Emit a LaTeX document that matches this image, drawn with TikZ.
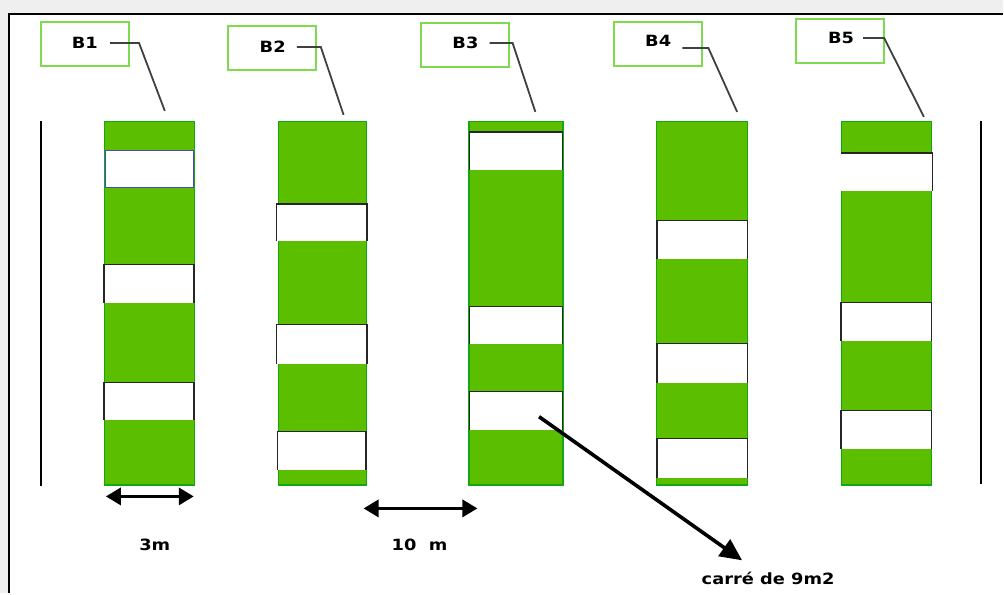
\documentclass[tikz,border=0pt]{standalone}
\usepackage{fontspec}
\setmainfont{DejaVu Sans}
\usetikzlibrary{arrows.meta}
\definecolor{plotgreen}{HTML}{5BBF00}
\definecolor{edgegreen}{HTML}{12A812}
\definecolor{boxgreen}{HTML}{7EDB4F}
\definecolor{bggray}{HTML}{EFEFEF}
\newcommand\widetxt[1]{\scalebox{1.15}[1]{#1}}
\begin{document}
\begin{tikzpicture}[x=1pt,y=-1pt,
 labelbox/.style={draw=boxgreen, line width=2pt, minimum width=88pt, minimum height=44pt, inner sep=0pt},
 lbl/.style={font=\fontsize{15.5}{17}\selectfont\bfseries, inner sep=0pt},
 column/.style={fill=plotgreen, draw=edgegreen, line width=1.2pt, minimum height=364pt, anchor=north west, inner sep=0pt},
 square/.style={fill=white, draw=none, anchor=north west, inner sep=0pt},
 sqborder/.style={draw=black!85, line width=1.5pt},
 leader/.style={draw=black!75, line width=1.8pt},
 dimarrow/.style={line width=3.4pt, {Triangle[length=15pt,width=17pt]}-{Triangle[length=15pt,width=17pt]}},
 ptarrow/.style={line width=3.6pt, -{Triangle[length=22pt,width=20pt]}},
 boundary/.style={line width=2.6pt, draw=black}
]
\fill[bggray] (0,0) rectangle (1004,594);
\fill[white] (9,14) rectangle (1004,594);
\draw[line width=2.4pt] (1004,14) -- (9,14) -- (9,594);
\useasboundingbox (0,0) rectangle (1004,594);

% boundary lines
\coordinate (lt) at (41,121); \coordinate (lb) at (41,487);
\coordinate (rt) at (982,121); \coordinate (rb) at (982,485);
\draw[boundary] (lt) -- (lb);
\draw[boundary] (rt) -- (rb);

% columns
\node[column, minimum width=90pt] (c1) at (104,121) {};
\node[column, minimum width=88pt] (c2) at (278,121) {};
\node[column, minimum width=94pt] (c3) at (469,121) {};
\node[column, minimum width=91pt] (c4) at (657,121) {};
\node[column, minimum width=90pt] (c5) at (842,121) {};

% squares: name / x / width / top / height
\foreach \n/\x/\w/\t/\h in {
  s12/104/90/265/38, s13/104/90/383/37,
  s21/277/90/204/37, s22/277/90/325/39, s23/278/88/432/38,
  s31/470/93/132/38, s32/470/93/307/37, s33/470/93/392/38,
  s41/658/90/221/38, s42/658/90/344/39, s43/658/90/439/39,
  s52/842/90/303/38, s53/842/90/411/38}{
  \node[square, minimum width=\w pt, minimum height=\h pt] (\n) at (\x,\t) {};
  \draw[sqborder] (\n.south west) -- (\n.north west) -- (\n.north east) -- (\n.south east);
}
\node[square, minimum width=88pt, minimum height=37pt, draw=blue!60!black!70, line width=1.2pt] (s11) at (105,150) {};
\node[square, minimum width=91pt, minimum height=38pt] (s51) at (842,153) {};
\draw[sqborder] (s51.north west) -- (s51.north east) -- (s51.south east);

% label boxes
\node[labelbox] (b1) at (85,44.5) {};
\node[labelbox] (b2) at (272,48) {};
\node[labelbox] (b3) at (465.5,45) {};
\node[labelbox] (b4) at (659,44.5) {};
\node[labelbox] (b5) at (841,41.5) {};
\node[lbl] (t1) at (85,43) {\widetxt{B1}};
\node[lbl] (t2) at (273,47) {\widetxt{B2}};
\node[lbl] (t3) at (466,43) {\widetxt{B3}};
\node[lbl] (t4) at (659,41) {\widetxt{B4}};
\node[lbl] (t5) at (842,38) {\widetxt{B5}};

% leaders
\coordinate (p1) at (165,111); \coordinate (p2) at (344,115);
\coordinate (p3) at (536,112); \coordinate (p4) at (738,112);
\coordinate (p5) at (925,117);
\draw[leader] ([xshift=12pt]t1.east) -- ++(29,0) -- (p1);
\draw[leader] ([xshift=11pt]t2.east) -- ++(24,0) -- (p2);
\draw[leader] ([xshift=11pt]t3.east) -- ++(23,0) -- (p3);
\draw[leader] ([xshift=11pt,yshift=-7pt]t4.east) -- ++(26,0) -- (p4);
\draw[leader] ([xshift=9pt]t5.east) -- ++(21,0) -- (p5);

% dimensions
\coordinate (d1a) at (106,497); \coordinate (d1b) at (194,497);
\coordinate (d2a) at (364,509); \coordinate (d2b) at (478,509);
\draw[dimarrow] (d1a) -- (d1b);
\draw[dimarrow] (d2a) -- (d2b);
\node[lbl] (m3) at (155,546) {\widetxt{3m}};
\node[lbl] (m10) at (420,546) {\widetxt{10~~m}};

% pointer to square
\node[lbl] (t9) at (769,579) {\widetxt{carré de 9m2}};
\draw[ptarrow] ([shift={(23,6)}]s33.center) -- ([shift={(-26,-18)}]t9.center);
\end{tikzpicture}
\end{document}
